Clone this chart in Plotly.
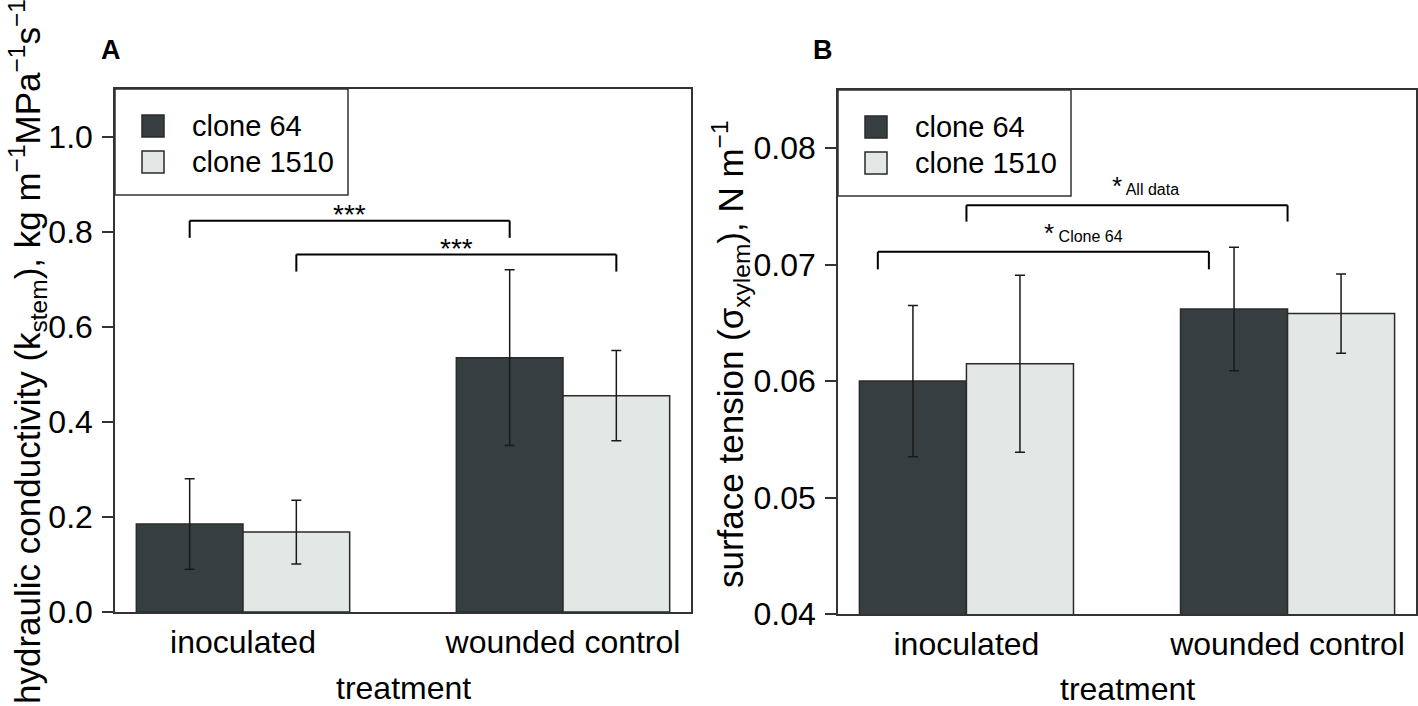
# Barras con error: conductividad hidráulica y tensión superficial
import plotly.graph_objects as go
from plotly.subplots import make_subplots

# Datos
tratamientos = ['inoculated', 'wounded control']
clones = ['clone 64', 'clone 1510']

k_stem_64 = [0.185, 0.535]
k_stem_64_err = [0.095, 0.185]
k_stem_1510 = [0.168, 0.455]
k_stem_1510_err = [0.067, 0.095]

sigma_64 = [0.0600, 0.0662]
sigma_64_err = [0.0065, 0.0053]
sigma_1510 = [0.0615, 0.0658]
sigma_1510_err = [0.0076, 0.0034]

# (x izquierda, x derecha, y, caida, texto) en unidades de categoría
corchetes_a = [(-1/6, 5/6, 0.823, 0.036, '***'),
               (1/6, 7/6, 0.752, 0.036, '***')]
corchetes_b = [(0.0, 1.0, 0.0751, 0.0014, 'All data'),
               (-0.276, 0.755, 0.0711, 0.0015, 'Clone 64')]

W, H = 1418, 706
FUENTE = 'Liberation Sans, Arial, sans-serif'
OSCURO = '#363e41'
CLARO = '#e3e8e7'
BORDE = '#2a2a2a'

fig = make_subplots(rows=1, cols=2)

for col, (v64, e64, v1510, e1510) in enumerate([(k_stem_64, k_stem_64_err, k_stem_1510, k_stem_1510_err),
                                                 (sigma_64, sigma_64_err, sigma_1510, sigma_1510_err)], start=1):
    for nombre, vals, errs, color in [(clones[0], v64, e64, OSCURO), (clones[1], v1510, e1510, CLARO)]:
        fig.add_trace(go.Bar(x=tratamientos, y=vals, name=nombre, showlegend=False,
                             marker=dict(color=color, line=dict(color=BORDE, width=1.5)),
                             error_y=dict(type='data', array=errs, color='#1a1a1a', thickness=1.5, width=5)),
                      row=1, col=col)

ejes = dict(showline=True, mirror=True, linecolor='#333333', linewidth=1.5, showgrid=False, zeroline=False,
            tickfont=dict(family=FUENTE, size=32, color='black'), automargin=False)

fig.update_xaxes(**ejes, ticks='', range=[-0.4, 1.4], ticklabelstandoff=1)
fig.update_yaxes(**ejes, ticks='outside', ticklen=11, tickwidth=1.5, tickcolor='#333333', ticklabelstandoff=3)

fig.update_layout(xaxis=dict(domain=[115 / W, 691 / W]), xaxis2=dict(domain=[838 / W, 1416 / W]),
                  yaxis=dict(domain=[1 - 612 / H, 1 - 89 / H], range=[0, 1.1], dtick=0.2, tickformat='.1f'),
                  yaxis2=dict(domain=[1 - 614 / H, 1 - 90 / H], range=[0.04, 0.085], dtick=0.01, tickformat='.2f'))

anotaciones = []
formas = []

# leyendas dibujadas a mano (cuadros grandes como en R)
for xr, yr in [('x', 'y'), ('x2', 'y2')]:
    formas.append(dict(type='rect', xref=xr + ' domain', yref=yr + ' domain', xsizemode='pixel', ysizemode='pixel',
                       xanchor=0, yanchor=1, x0=0, x1=233, y0=0, y1=-106,
                       line=dict(color='#333333', width=1.5), fillcolor='white', layer='above'))
    for i, (nombre, color) in enumerate(zip(clones, [OSCURO, CLARO])):
        formas.append(dict(type='rect', xref=xr + ' domain', yref=yr + ' domain', xsizemode='pixel', ysizemode='pixel',
                           xanchor=0, yanchor=1, x0=27, x1=49, y0=-26 - 36 * i, y1=-48 - 36 * i,
                           line=dict(color=BORDE, width=1.5), fillcolor=color, layer='above'))
        anotaciones.append(dict(text=nombre, xref=xr + ' domain', yref=yr + ' domain', x=0, y=1,
                                xshift=75, yshift=-37 - 36 * i, xanchor='left', yanchor='middle', showarrow=False,
                                font=dict(family=FUENTE, size=29, color='black')))

# corchetes de significancia
for xr, yr, corchetes in [('x', 'y', corchetes_a), ('x2', 'y2', corchetes_b)]:
    for x0, x1, y, caida, texto in corchetes:
        for seg in [(x0, y, x1, y), (x0, y, x0, y - caida), (x1, y, x1, y - caida)]:
            formas.append(dict(type='line', xref=xr, yref=yr, x0=seg[0], y0=seg[1], x1=seg[2], y1=seg[3],
                               line=dict(color='black', width=2)))

for x0, x1, y, caida, texto in corchetes_a:
    anotaciones.append(dict(text=texto, xref='x', yref='y', x=(x0 + x1) / 2, y=y, yshift=6,
                            xanchor='center', yanchor='middle',
                            showarrow=False, font=dict(family=FUENTE, size=28, color='black')))

for (x0, x1, y, caida, texto), xt in zip(corchetes_b, [0.447, 0.235]):
    anotaciones.append(dict(text='*<span style="font-size:16px"> ' + texto + '</span>', xref='x2', yref='y2',
                            x=xt, y=y, xanchor='left', yanchor='bottom', yshift=2, showarrow=False,
                            font=dict(family=FUENTE, size=26, color='black')))

# titulos de ejes y etiquetas de panel
texto_base = dict(xref='paper', yref='paper', xanchor='center', yanchor='middle', showarrow=False)
anotaciones += [
    dict(text='hydraulic conductivity (k<sub>stem</sub>), kg m<sup>−1</sup>MPa<sup>−1</sup>s<sup>−1</sup>',
         x=28 / W, y=1 - 352 / H, textangle=-90, font=dict(family=FUENTE, size=35, color='black'), **texto_base),
    dict(text='surface tension (σ<sub>xylem</sub>), N m<sup>−1</sup>',
         x=730 / W, y=1 - 354 / H, textangle=-90, font=dict(family=FUENTE, size=35, color='black'), **texto_base),
    dict(text='treatment', x=403 / W, y=1 - 688 / H, font=dict(family=FUENTE, size=32, color='black'), **texto_base),
    dict(text='treatment', x=1127 / W, y=1 - 689 / H, font=dict(family=FUENTE, size=32, color='black'), **texto_base),
    dict(text='<b>A</b>', x=111 / W, y=1 - 50 / H, font=dict(family=FUENTE, size=27, color='black'), **texto_base),
    dict(text='<b>B</b>', x=823 / W, y=1 - 50 / H, font=dict(family=FUENTE, size=27, color='black'), **texto_base),
]

fig.update_layout(width=W, height=H, margin=dict(l=0, r=0, t=0, b=0), template='none',
                  paper_bgcolor='white', plot_bgcolor='white', barmode='group', bargap=1 / 3, bargroupgap=0,
                  showlegend=False, shapes=formas, annotations=anotaciones, font=dict(family=FUENTE))

fig.write_html('out.html', config={'displayModeBar': False},
               post_script="document.body.style.margin='0';")
